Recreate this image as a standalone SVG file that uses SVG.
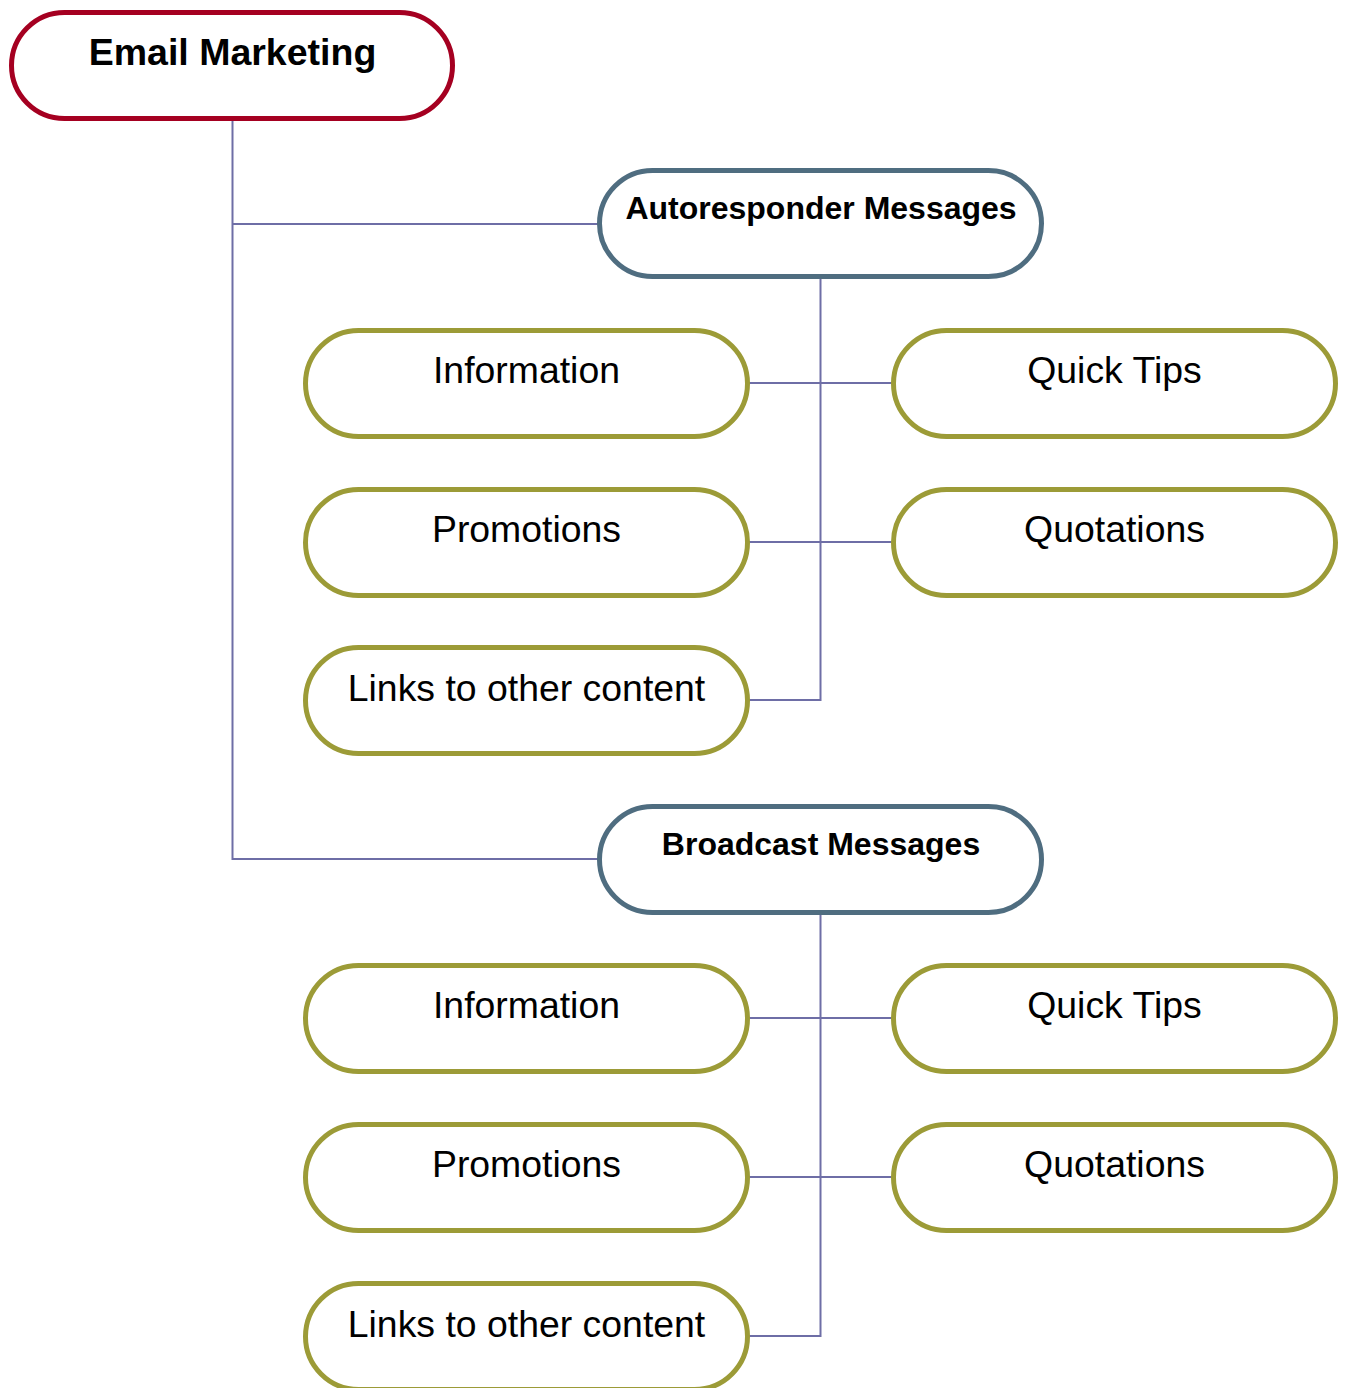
<svg xmlns="http://www.w3.org/2000/svg" width="1345" height="1388" viewBox="0 0 1345 1388">
<style>
.n{fill:#fff;stroke-width:5}
.root{stroke:#A50021}
.mid{stroke:#4F6D80}
.leaf{stroke:#9C9B37}
.t{font-family:"Liberation Sans",Arial,sans-serif;fill:#000;text-anchor:middle}
.tb{font-weight:bold}
.conn{fill:none;stroke:#6E6EA6;stroke-width:2}
</style>
<rect width="1345" height="1388" fill="#fff"/>
<g id="connectors" class="conn">
<path d="M232.5,118.5 V859 H599.5"/>
<path d="M232.5,224 H599.5"/>
<path d="M820.5,276.5 V700 H747.5"/>
<path d="M747.5,383 H893.5"/>
<path d="M747.5,542 H893.5"/>
<path d="M820.5,912.5 V1336 H747.5"/>
<path d="M747.5,1018 H893.5"/>
<path d="M747.5,1177 H893.5"/>
</g>
<g id="email-marketing"><rect class="n root" x="11.5" y="12.5" width="441" height="106" rx="53"/><text class="t tb" x="232.5" y="65" font-size="37.5">Email Marketing</text></g>
<g id="autoresponder"><rect class="n mid" x="599.5" y="170.5" width="442" height="106" rx="53"/><text class="t tb" x="821" y="219" font-size="32">Autoresponder Messages</text></g>
<g id="a-information"><rect class="n leaf" x="305.5" y="330.5" width="442" height="106" rx="53"/><text class="t" x="526.5" y="383" font-size="37.4">Information</text></g>
<g id="a-quicktips"><rect class="n leaf" x="893.5" y="330.5" width="442" height="106" rx="53"/><text class="t" x="1114.5" y="383" font-size="37.4">Quick Tips</text></g>
<g id="a-promotions"><rect class="n leaf" x="305.5" y="489.5" width="442" height="106" rx="53"/><text class="t" x="526.5" y="542" font-size="37.4">Promotions</text></g>
<g id="a-quotations"><rect class="n leaf" x="893.5" y="489.5" width="442" height="106" rx="53"/><text class="t" x="1114.5" y="542" font-size="37.4">Quotations</text></g>
<g id="a-links"><rect class="n leaf" x="305.5" y="647.5" width="442" height="106" rx="53"/><text class="t" x="526.5" y="701" font-size="37.4">Links to other content</text></g>
<g id="broadcast"><rect class="n mid" x="599.5" y="806.5" width="442" height="106" rx="53"/><text class="t tb" x="821" y="855" font-size="32">Broadcast Messages</text></g>
<g id="b-information"><rect class="n leaf" x="305.5" y="965.5" width="442" height="106" rx="53"/><text class="t" x="526.5" y="1018" font-size="37.4">Information</text></g>
<g id="b-quicktips"><rect class="n leaf" x="893.5" y="965.5" width="442" height="106" rx="53"/><text class="t" x="1114.5" y="1018" font-size="37.4">Quick Tips</text></g>
<g id="b-promotions"><rect class="n leaf" x="305.5" y="1124.5" width="442" height="106" rx="53"/><text class="t" x="526.5" y="1177" font-size="37.4">Promotions</text></g>
<g id="b-quotations"><rect class="n leaf" x="893.5" y="1124.5" width="442" height="106" rx="53"/><text class="t" x="1114.5" y="1177" font-size="37.4">Quotations</text></g>
<g id="b-links"><rect class="n leaf" x="305.5" y="1283.5" width="442" height="106" rx="53"/><text class="t" x="526.5" y="1337" font-size="37.4">Links to other content</text></g>
</svg>
